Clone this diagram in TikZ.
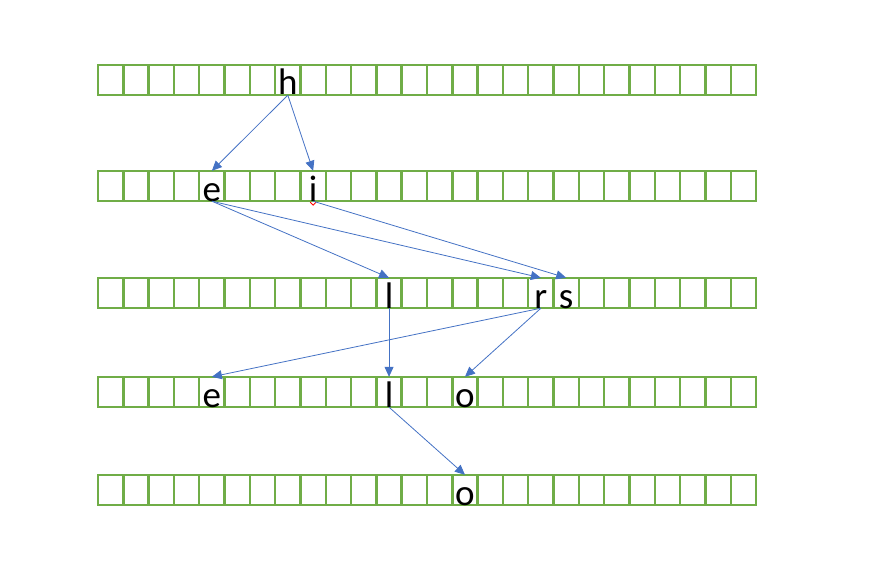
\documentclass[tikz,border=0pt]{standalone}
\usepackage{fontspec}
\setmainfont{Carlito}
\usetikzlibrary{arrows.meta}
\definecolor{gridgreen}{HTML}{70AD47}
\definecolor{arrowblue}{HTML}{4472C4}
\begin{document}
\begin{tikzpicture}[x=1pt,y=-1pt,
  gridline/.style={draw=gridgreen,line width=2.4pt},
  letter/.style={rectangle,minimum width=25.3pt,minimum height=30pt,inner sep=0pt,
    text height=30pt,text depth=0pt,font=\fontsize{37}{40}\selectfont},
  link/.style={draw=arrowblue,line width=0.8pt,-{Triangle[length=10pt,width=9pt]}}]
\useasboundingbox (0,0) rectangle (874,580);
\pgfmathsetmacro{\cw}{658/26}
% grids
\foreach \t in {65,171,278,377,475}{
  \draw[gridline] (98,\t) rectangle (756,\t+30);
  \foreach \i in {1,...,25}{
    \draw[gridline] (98+\i*\cw,\t) -- (98+\i*\cw,\t+30);
  }
}
% letters (cell index i -> centre 98+(i+0.5)*cw)
\node[letter] (h1) at (98+7.5*\cw,80) {h};
\node[letter] (e2) at (98+4.5*\cw,186) {e};
\node[letter] (i2) at (98+8.5*\cw,186) {i};
\node[letter] (l3) at (98+11.5*\cw,293) {l};
\node[letter] (r3) at (98+17.5*\cw,293) {r};
\node[letter] (s3) at (98+18.5*\cw,293) {s};
\node[letter] (e4) at (98+4.5*\cw,392) {e};
\node[letter] (l4) at (98+11.5*\cw,392) {l};
\node[letter] (o4) at (98+14.5*\cw,392) {o};
\node[letter] (o5) at (98+14.5*\cw,490) {o};
% spell-check mark under i
\draw[red,line width=0.9pt] ([xshift=-3pt,yshift=-1pt]i2.south) -- ([yshift=-4pt]i2.south) -- ([xshift=3pt,yshift=-1pt]i2.south);
% arrows
\draw[link] (h1.south) -- (e2.north);
\draw[link] (h1.south) -- (i2.north);
\draw[link] (e2.south) -- (l3.north);
\draw[link] (e2.south) -- (r3.north);
\draw[link] (i2.south) -- (s3.north);
\draw[link] (l3.south) -- (l4.north);
\draw[link] (r3.south) -- (e4.north);
\draw[link] (r3.south) -- (o4.north);
\draw[link] (l4.south) -- (o5.north);
\end{tikzpicture}
\end{document}
